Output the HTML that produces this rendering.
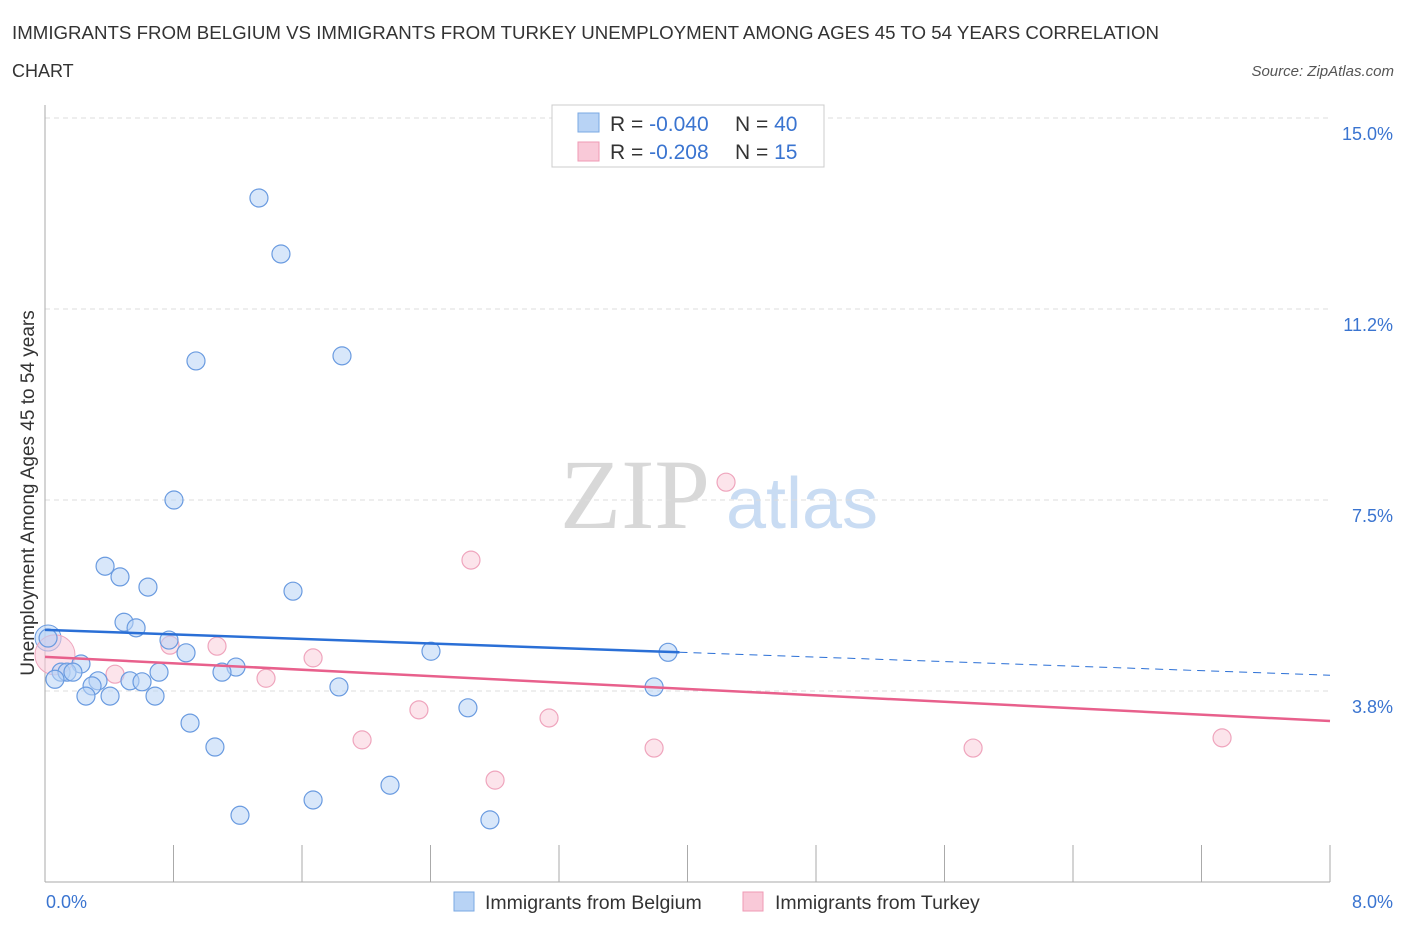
<!DOCTYPE html>
<html><head><meta charset="utf-8"><style>
body{margin:0;background:#fff;font-family:"Liberation Sans",sans-serif;}
svg text{font-family:"Liberation Sans",sans-serif;}
</style></head><body>
<svg id="c" width="1406" height="930" xmlns="http://www.w3.org/2000/svg">
<text x="12" y="39" font-size="18" fill="#333" textLength="1147" lengthAdjust="spacingAndGlyphs">IMMIGRANTS FROM BELGIUM VS IMMIGRANTS FROM TURKEY UNEMPLOYMENT AMONG AGES 45 TO 54 YEARS CORRELATION</text>
<text x="12" y="77" font-size="18" fill="#333">CHART</text>
<text x="1394" y="76" font-size="15" fill="#555" font-style="italic" text-anchor="end">Source: ZipAtlas.com</text>
<text x="635" y="528" font-size="100" fill="#d8d8d8" text-anchor="middle" style="font-family:'Liberation Serif',serif">ZIP</text>
<text x="802" y="528" font-size="72" fill="#c9dcf3" text-anchor="middle">atlas</text>
<g id="grid"></g><g id="axes"></g><g id="marks"></g>
<g>
<rect x="552" y="105" width="272" height="62" fill="#fff" stroke="#ccc"/>
<rect x="578" y="113" width="21" height="19" fill="#b8d3f5" stroke="#7aa8e3"/>
<rect x="578" y="142" width="21" height="19" fill="#f9c9d8" stroke="#ef9ab4"/>
<text x="610" y="131" font-size="21" fill="#333">R = <tspan fill="#3a74d0">-0.040</tspan></text>
<text x="735" y="131" font-size="21" fill="#333">N = <tspan fill="#3a74d0">40</tspan></text>
<text x="610" y="159" font-size="21" fill="#333">R = <tspan fill="#3a74d0"> -0.208</tspan></text>
<text x="735" y="159" font-size="21" fill="#333">N = <tspan fill="#3a74d0"> 15</tspan></text>
</g>
<g>
<rect x="454" y="892" width="20" height="19" fill="#b8d3f5" stroke="#7aa8e3"/>
<text x="485" y="909" font-size="19.5" fill="#333">Immigrants from Belgium</text>
<rect x="743" y="892" width="20" height="19" fill="#f9c9d8" stroke="#ef9ab4"/>
<text x="775" y="909" font-size="19.5" fill="#333">Immigrants from Turkey</text>
</g>
<text x="46" y="908" font-size="18" fill="#3a74d0">0.0%</text>
<text x="1393" y="908" font-size="18" fill="#3a74d0" text-anchor="end">8.0%</text>
<text transform="translate(34,493) rotate(-90)" font-size="19" fill="#333" text-anchor="middle">Unemployment Among Ages 45 to 54 years</text>
</svg>
<script>
const yTicks=[15.0,11.25,7.5,3.75];
const yTickLabels=["15.0%","11.2%","7.5%","3.8%"];
const belgiumX=[1.332,1.469,0.940,1.849,0.803,0.374,0.467,0.641,1.544,0.492,0.567,0.772,0.878,2.403,3.879,0.019,0.224,1.189,1.102,0.710,0.100,0.137,0.174,0.062,0.330,0.529,0.604,0.293,1.830,3.792,0.255,0.405,0.685,2.633,0.903,1.058,2.148,1.669,1.214,2.770];
const belgiumY=[13.43,12.33,10.23,10.33,7.50,6.20,5.99,5.79,5.71,5.10,4.99,4.75,4.50,4.53,4.51,4.79,4.28,4.22,4.12,4.12,4.12,4.12,4.12,3.98,3.95,3.95,3.93,3.85,3.83,3.83,3.65,3.65,3.65,3.42,3.12,2.65,1.90,1.61,1.31,1.22];
const turkeyX=[4.240,2.652,1.071,0.778,1.669,1.376,0.436,2.328,3.138,1.974,3.792,5.778,7.328,2.802];
const turkeyY=[7.85,6.32,4.63,4.65,4.40,4.00,4.08,3.38,3.22,2.79,2.63,2.63,2.83,2.00];
const turkeyBig=[0.062,4.46];
const belgiumTrend=[4.95,4.06];
const turkeyTrend=[4.42,3.16];
const NS="http://www.w3.org/2000/svg";
const X0=45,X1=1330,Y0=882,YTOP=118;
function sx(v){return X0+v/8*(X1-X0);}
function sy(v){return Y0-v/15*(Y0-YTOP);}
function mk(t,a,p){const e=document.createElementNS(NS,t);for(const k in a)e.setAttribute(k,a[k]);p.appendChild(e);return e;}
const grid=document.getElementById('grid'),axes=document.getElementById('axes'),marks=document.getElementById('marks');
yTicks.forEach((v,i)=>{
 const l=mk('line',{x1:X0,x2:X1,y1:sy(v),y2:sy(v),stroke:'#ddd','stroke-dasharray':'5,4'},grid);
 
 
 const t=mk('text',{x:1393,y:sy(v)+22,'font-size':18,fill:'#3a74d0','text-anchor':'end'},grid);
 t.textContent=yTickLabels[i];
 
 
});
let a=mk('line',{x1:X0,x2:X0,y1:105,y2:Y0,stroke:'#aaa'},axes);


a=mk('line',{x1:X0,x2:X1,y1:Y0,y2:Y0,stroke:'#aaa'},axes);


for(let i=1;i<=10;i++){const x=X0+i*(X1-X0)/10;const tk=mk('line',{x1:x,x2:x,y1:Y0-37,y2:Y0,stroke:'#aaa'},axes);
 
 }
function dot(x,y,r,f,s,name){const c=mk('circle',{cx:sx(x),cy:sy(y),r:r,fill:f,stroke:s,'stroke-width':1.2},marks);
 
 }
const bb=mk('circle',{cx:sx(0.019),cy:sy(4.79),r:13,fill:'rgba(184,211,245,0.55)',stroke:'#6a9be0'},marks);


const tb=mk('circle',{cx:sx(turkeyBig[0]),cy:sy(turkeyBig[1]),r:20,fill:'rgba(249,201,216,0.55)',stroke:'#efa5bd'},marks);


turkeyX.forEach((x,i)=>dot(x,turkeyY[i],9,'rgba(249,201,216,0.5)','#efa5bd','turkey-point'));
belgiumX.forEach((x,i)=>dot(x,belgiumY[i],9,'rgba(184,211,245,0.55)','#6a9be0','belgium-point'));
const xEndB=3.95;
function ly(t,x){return t[0]+(t[1]-t[0])*x/8;}
let l=mk('line',{x1:sx(0),y1:sy(ly(belgiumTrend,0)),x2:sx(xEndB),y2:sy(ly(belgiumTrend,xEndB)),stroke:'#2a6fd6','stroke-width':2.5},marks);


l=mk('line',{x1:sx(xEndB),y1:sy(ly(belgiumTrend,xEndB)),x2:sx(8),y2:sy(ly(belgiumTrend,8)),stroke:'#2a6fd6','stroke-width':1,'stroke-dasharray':'8,6'},marks);


l=mk('line',{x1:sx(0),y1:sy(turkeyTrend[0]),x2:sx(8),y2:sy(turkeyTrend[1]),stroke:'#e8608c','stroke-width':2.5},marks);


</script>
</body></html>
